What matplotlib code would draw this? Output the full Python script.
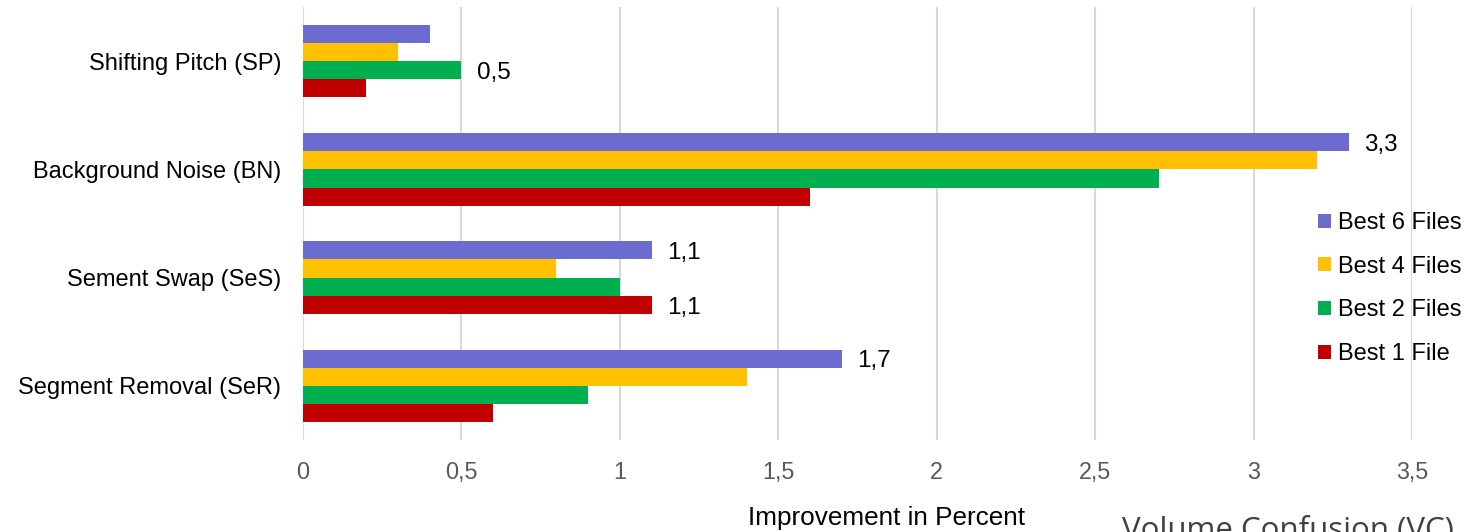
import matplotlib
matplotlib.use("Agg")
import matplotlib.pyplot as plt
from matplotlib.patches import Patch
import numpy as np

categories = ["Shifting Pitch (SP)", "Background Noise (BN)", "Sement Swap (SeS)", "Segment Removal (SeR)"]
series_names = ["Best 6 Files", "Best 4 Files", "Best 2 Files", "Best 1 File"]
best6 = [0.4, 3.3, 1.1, 1.7]
best4 = [0.3, 3.2, 0.8, 1.4]
best2 = [0.5, 2.7, 1.0, 0.9]
best1 = [0.2, 1.6, 1.1, 0.6]
colors = ["#6b6bd0", "#ffc000", "#00b050", "#c00000"]
xticks = [0, 0.5, 1, 1.5, 2, 2.5, 3, 3.5]
xtick_labels = ["0", "0,5", "1", "1,5", "2", "2,5", "3", "3,5"]
# (series index, category index) pairs that carry a value label
labelled = [(2, 0), (0, 1), (0, 2), (3, 2), (0, 3)]

plt.rcParams["font.family"] = ["Liberation Sans", "DejaVu Sans"]

W, H = 1466, 532
fig = plt.figure(figsize=(W / 100, H / 100), dpi=100)
ax = fig.add_axes([303 / W, 1 - 440 / H, (1412 - 303) / W, (440 - 7) / H])

values = [best6, best4, best2, best1]
y = np.arange(len(categories))
h = 0.168
for i, (vals, col) in enumerate(zip(values, colors)):
    ax.barh(y + (i - 1.5) * h, vals, height=h, color=col, zorder=3)

for si, ci in labelled:
    v = values[si][ci]
    ax.annotate(f"{v:.1f}".replace(".", ","), (v, y[ci] + (si - 1.5) * h),
                xytext=(11, -2), textcoords="offset points",
                ha="left", va="center", fontsize=17.5, color="#000000")

ax.set_xlim(0, 3.5)
ax.set_ylim(len(categories) - 0.5, -0.5)
ax.set_xticks(xticks)
ax.set_xticklabels(xtick_labels)
ax.set_yticks(y)
ax.set_yticklabels(categories)
ax.tick_params(axis="x", length=0, pad=15, labelsize=16.8, labelcolor="#595959")
ax.tick_params(axis="y", length=0, pad=15.5, labelsize=17, labelcolor="#000000")
ax.grid(axis="x", color="#d9d9d9", linewidth=1.5, zorder=0)
for s in ax.spines.values():
    s.set_visible(False)

fig.text(886 / W, 1 - 518 / H, "Improvement in Percent", ha="center", va="center",
         fontsize=18.8, color="#000000")
fig.text(1122 / W, 1 - 539 / H, "Volume Confusion (VC)", ha="left", va="baseline",
         fontsize=22.5, color="#404040", family=["Open Sans", "DejaVu Sans"])

handles = [Patch(facecolor=c, edgecolor="none") for c in colors]
fig.legend(handles, series_names, loc="upper left", bbox_to_anchor=(1318 / W, 1 - 212 / H),
           frameon=False, fontsize=17, handlelength=0.55, handleheight=0.55,
           handletextpad=0.3, labelspacing=0.92, borderaxespad=0, borderpad=0)

fig.savefig("out.png", dpi=100)
